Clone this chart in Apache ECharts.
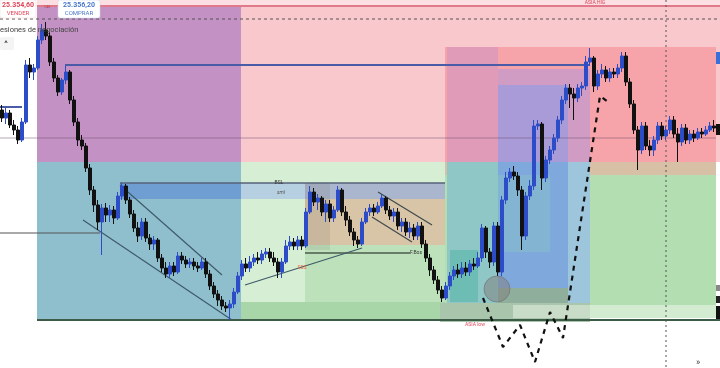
<!DOCTYPE html>
<html><head><meta charset="utf-8">
<script src="https://cdn.jsdelivr.net/npm/echarts@6/dist/echarts.min.js"></script>
<style>html,body{margin:0;padding:0;background:#fff}#c{width:720px;height:368px}</style>
</head><body><div id="c"></div>
<script>
// Candles: [open, close, low, high]
const candles = [
[25290,25282,25278,25295],[25282,25287,25276,25292],[25287,25275,25272,25290],[25275,25270,25265,25280],
[25270,25260,25256,25274],[25260,25278,25258,25282],[25278,25335,25276,25340],[25335,25328,25322,25342],
[25328,25332,25320,25336],[25332,25360,25330,25364],[25360,25370,25356,25376],[25370,25364,25360,25378],
[25364,25338,25334,25368],[25338,25322,25318,25342],[25322,25308,25304,25325],[25308,25320,25305,25322],
[25320,25328,25316,25334],[25328,25300,25296,25330],[25300,25278,25274,25304],[25278,25260,25254,25282],
[25260,25254,25250,25265],[25254,25232,25228,25257],[25232,25210,25205,25236],[25210,25195,25188,25214],
[25195,25178,25170,25200],[25178,25192,25145,25196],[25192,25185,25178,25197],[25185,25190,25178,25195],
[25190,25182,25176,25194],[25182,25204,25180,25208],[25204,25214,25200,25217],[25214,25200,25196,25216],
[25200,25186,25182,25203],[25186,25172,25168,25190],[25172,25164,25158,25178],[25164,25178,25160,25182],
[25178,25162,25158,25182],[25162,25156,25150,25166],[25156,25160,25150,25164],[25160,25142,25138,25162],
[25142,25132,25128,25146],[25132,25126,25122,25138],[25126,25134,25122,25138],[25134,25128,25124,25138],
[25128,25144,25126,25148],[25144,25140,25136,25148],[25140,25136,25132,25144],[25136,25138,25132,25142],
[25138,25134,25130,25142],[25134,25132,25128,25138],[25132,25138,25130,25142],[25138,25126,25122,25142],
[25126,25114,25110,25130],[25114,25106,25102,25118],[25106,25100,25094,25110],[25100,25094,25090,25104],
[25094,25092,25088,25098],[25092,25096,25080,25100],[25096,25108,25092,25112],[25108,25124,25106,25128],
[25124,25136,25120,25140],[25136,25132,25128,25142],[25132,25138,25128,25144],[25138,25142,25134,25146],
[25142,25140,25136,25148],[25140,25146,25136,25150],[25146,25148,25142,25152],[25148,25142,25138,25152],
[25142,25138,25134,25148],[25138,25128,25122,25142],[25128,25138,25122,25142],[25138,25154,25136,25160],
[25154,25158,25150,25164],[25158,25154,25150,25162],[25154,25160,25150,25164],[25160,25154,25150,25164],
[25154,25188,25152,25192],[25188,25208,25186,25214],[25208,25198,25194,25212],[25198,25202,25190,25206],
[25202,25188,25184,25204],[25188,25196,25178,25200],[25196,25182,25178,25200],[25182,25190,25178,25194],
[25190,25210,25188,25214],[25210,25188,25184,25212],[25188,25180,25174,25194],[25180,25168,25164,25184],
[25168,25160,25154,25172],[25160,25156,25152,25164],[25156,25178,25154,25182],[25178,25188,25176,25192],
[25188,25192,25184,25196],[25192,25188,25184,25196],[25188,25194,25186,25198],[25194,25202,25192,25206],
[25202,25190,25186,25204],[25190,25184,25180,25194],[25184,25188,25178,25192],[25188,25174,25170,25192],
[25174,25178,25168,25182],[25178,25168,25164,25182],[25168,25172,25162,25178],[25172,25164,25160,25176],
[25164,25174,25160,25178],[25174,25156,25152,25178],[25156,25142,25138,25160],[25142,25130,25124,25146],
[25130,25120,25116,25134],[25120,25110,25106,25124],[25110,25102,25098,25114],[25102,25114,25100,25118],
[25114,25124,25110,25128],[25124,25130,25120,25134],[25130,25126,25122,25136],[25126,25132,25122,25138],
[25132,25128,25124,25138],[25128,25136,25124,25140],[25136,25134,25130,25142],[25134,25142,25132,25148],
[25142,25172,25138,25176],[25172,25148,25142,25174],[25148,25138,25132,25152],[25138,25174,25134,25178],
[25174,25128,25124,25178],[25128,25200,25124,25204],[25200,25222,25196,25228],[25222,25228,25218,25232],
[25228,25224,25220,25234],[25224,25210,25204,25228],[25210,25164,25150,25214],[25164,25204,25160,25208],
[25204,25214,25200,25220],[25214,25274,25210,25280],[25274,25276,25270,25280],[25276,25222,25210,25278],
[25222,25240,25218,25244],[25240,25250,25236,25254],[25250,25262,25246,25266],[25262,25280,25258,25284],
[25280,25300,25276,25304],[25300,25312,25296,25316],[25312,25306,25292,25316],[25306,25302,25280,25312],
[25302,25312,25298,25316],[25312,25314,25304,25318],[25314,25338,25310,25344],[25338,25342,25334,25352],
[25342,25314,25308,25344],[25314,25326,25310,25330],[25326,25330,25322,25336],[25330,25322,25318,25334],
[25322,25328,25318,25332],[25328,25326,25322,25332],[25326,25332,25322,25336],[25332,25344,25328,25348],
[25344,25318,25314,25348],[25318,25296,25292,25322],[25296,25270,25266,25300],[25270,25250,25230,25274],
[25250,25274,25246,25278],[25274,25254,25250,25278],[25254,25250,25244,25260],[25250,25260,25244,25264],
[25260,25274,25256,25278],[25274,25264,25260,25278],[25264,25270,25260,25274],[25270,25280,25266,25284],
[25280,25266,25262,25284],[25266,25258,25238,25272],[25258,25272,25254,25276],[25272,25260,25256,25276],
[25260,25266,25256,25270],[25266,25262,25258,25270],[25262,25268,25260,25272],[25268,25266,25262,25272],
[25266,25270,25264,25274],[25270,25274,25268,25278],[25274,25272,25268,25280]
];
const slotCount = 180;
const categories = Array.from({length: slotCount}, (_, i) => String(i));

// Zones: [x1, priceTop, x2, priceBottom] (x in bar slots)
const zones = [
[9.25,25400,180,25393],[9.25,25393,180,25238],[9.25,25394,60.25,25238],[9.25,25238,60.25,25080],
[30,25217,60.25,25201],[60.25,25238,111.25,25080],[76.25,25155,111.25,25098],[60.25,25098,111.25,25080],
[60.25,25217,76.25,25201],[76.25,25217,111.25,25201],[76.25,25201,111.25,25155],[76.25,25217,82.5,25150],
[111.25,25353,179,25238],[111.25,25238,179,25225],[111.25,25225,179,25095],[110,25095,179,25082],
[111.75,25353,124.5,25238],[124.5,25331,147.5,25238],[124.5,25315,142,25238],[124.5,25238,142,25110],
[142,25238,147.5,25097],[111.75,25238,124.5,25097],[112.5,25150,119.5,25098],[124.5,25225,137.5,25148],
[124.5,25112,142,25097],[110,25097,147.5,25078],[128.25,25095,147.5,25082],
[179,25348,180,25336],[179,25276,180,25265],[179,25115,180,25109],[179,25104,180,25097],[179,25094,180,25080]
];
const zoneColors = [
'#fbdfe2','#f9c8cc','#c391c3','#8fbfcd',
'#6f9fd2','#d6eed4','#bde2bb','#a8d6a8',
'#b6d0e2','#a9b6cd','#d8c5a8','rgba(110,100,90,0.14)',
'#f6a3aa','#d8c0a6','#b3deb2','#d3ecd1',
'#df9bb8','#d09cc4','#a99ad8','#7fa9dd',
'#9dc5dc','#8fc6c6','#6dbdb4','rgba(140,200,190,0.35)',
'#8fae9b','#a9c5ab','#c9dcc8',
'#3a6fd8','#111','#888','#222','#111'
];

// Level / trend lines
const levelLines = [
[[9.25,25080],[180,25080]],
[[0,25167],[25,25167]],
[[0,25262],[179,25262]],
[[16.25,25335],[147.5,25335]],
[[0,25293],[5.5,25293]],
[[30,25217],[111.25,25217]],
[[76.25,25147],[102.5,25147]],
[[9.25,25394],[180,25394]],
[[0,25381],[180,25381]],
[[166.5,25400],[166.5,25032]],
[[30,25215],[55.5,25125]],
[[20.75,25180],[58,25080]],
[[61.25,25115],[90.5,25152]],
[[94.5,25208],[108,25175]],
[[93,25183],[103,25158]],
[[120.75,25102],[125.75,25053],[130,25075],[133.75,25038],[137.5,25088],[140.75,25062],[150,25304],[152,25298]]
];
const levelStyles = [
{color:'#3d5c48',width:2,type:'solid'},
{color:'#555',width:1.2,type:'solid'},
{color:'rgba(110,80,110,0.5)',width:1,type:'solid'},
{color:'#4a5ca8',width:2,type:'solid'},
{color:'#4a5ca8',width:2,type:'solid'},
{color:'#56627a',width:1.5,type:'solid'},
{color:'#4c5b4c',width:1.5,type:'solid'},
{color:'#e07a8a',width:2,type:'solid'},
{color:'#555',width:1,type:[3,3]},
{color:'#555',width:1,type:[2,3]},
{color:'#3f5a6a',width:1.2,type:'solid'},
{color:'#3f5a6a',width:1.2,type:'solid'},
{color:'#3f5a6a',width:1.2,type:'solid'},
{color:'#3f4a4a',width:1.2,type:'solid'},
{color:'#3f4a4a',width:1.2,type:'solid'},
{color:'#111',width:2.2,type:[5,5]}
];

const labelTexts = ['ASIA HIG','BSL','sml','F.Bos','SSS','ASIA low'];
const labelPos = [[148.75,25397],[69.75,25217],[70.25,25207],[104,25147],[75.5,25132],[118.75,25075]];
const labelColors = ['#e0475a','#333','#555','#333','#e8663c','#e0475a'];
const circleCenter = [124.25,25111];

const chart = echarts.init(document.getElementById('c'), null, {renderer:'canvas'});
const series = [];
series.push({
  type:'custom', xAxisIndex:1, yAxisIndex:0, z:1, silent:true, animation:false,
  encode:{x:[0,2],y:[1,3]}, data: zones, clip:false,
  renderItem:(p, api)=>{
    const a = api.coord([api.value(0), api.value(1)]);
    const b = api.coord([api.value(2), api.value(3)]);
    return {type:'rect', shape:{x:Math.min(a[0],b[0]), y:Math.min(a[1],b[1]), width:Math.abs(b[0]-a[0]), height:Math.abs(b[1]-a[1])},
      style:{fill: zoneColors[p.dataIndex]}};
  }
});
levelLines.forEach((ln, k)=>{
  series.push({type:'line', xAxisIndex:1, yAxisIndex:0, data: ln, symbol:'none', silent:true, animation:false,
    z: k===15 ? 6 : 2, lineStyle: levelStyles[k]});
});
series.push({
  type:'candlestick', xAxisIndex:0, yAxisIndex:0, data:candles, z:3, barWidth:3, silent:true, animation:false,
  itemStyle:{color:'#2c4cc8', color0:'#111111', borderColor:'#2c4cc8', borderColor0:'#111111', borderWidth:1}
});
series.push({
  type:'custom', xAxisIndex:1, yAxisIndex:0, z:5, silent:true, animation:false,
  data:[circleCenter],
  renderItem:(p, api)=>{
    const c = api.coord([api.value(0), api.value(1)]);
    return {type:'circle', shape:{cx:c[0], cy:c[1], r:13}, style:{fill:'rgba(130,130,130,0.55)', stroke:'rgba(110,110,110,0.6)', lineWidth:1}};
  }
});
series.push({
  type:'custom', xAxisIndex:1, yAxisIndex:0, z:7, silent:true, animation:false,
  data: labelPos,
  renderItem:(p, api)=>{
    const c = api.coord([api.value(0), api.value(1)]);
    const i = p.dataIndex;
    return {type:'text', x:c[0], y:c[1], style:{text:labelTexts[i], fill:labelColors[i], fontSize:5,
      fontFamily:'Roboto', fontStyle: i===2?'italic':'normal', align:'center', verticalAlign:'middle'}};
  }
});

chart.setOption({
  backgroundColor:'#ffffff',
  animation:false,
  grid:{left:0,right:0,top:0,bottom:0},
  xAxis:[
    {type:'category', data:categories, show:false, boundaryGap:true, position:'bottom'},
    {type:'value', min:0, max:slotCount, show:false, position:'top'}
  ],
  yAxis:[{type:'value', min:25032, max:25400, show:false, scale:true}],
  series: series,
  graphic:[
    {type:'rect', x:0, y:0, shape:{width:36,height:18,r:2}, style:{fill:'#ffffff', stroke:'#f0d0d4', lineWidth:0.5}, z:100},
    {type:'text', x:18, y:5, style:{text:'25.354,60', fill:'#e0475a', font:'bold 7px Roboto', align:'center', verticalAlign:'middle'}, z:101},
    {type:'text', x:18, y:13, style:{text:'VENDER', fill:'#e0475a', font:'6px Roboto', align:'center', verticalAlign:'middle'}, z:101},
    {type:'text', x:47, y:7, style:{text:'145', fill:'#b04050', font:'4px Roboto', align:'center', verticalAlign:'middle'}, z:101},
    {type:'rect', x:58, y:0, shape:{width:42,height:18,r:2}, style:{fill:'#ffffff', stroke:'#c8d6ee', lineWidth:0.5}, z:100},
    {type:'text', x:79, y:5, style:{text:'25.356,20', fill:'#4a78c8', font:'bold 7px Roboto', align:'center', verticalAlign:'middle'}, z:101},
    {type:'text', x:79, y:13, style:{text:'COMPRAR', fill:'#4a78c8', font:'6px Roboto', align:'center', verticalAlign:'middle'}, z:101},
    {type:'text', x:0, y:30, style:{text:'esiones de negociación', fill:'#444', font:'7.5px Roboto', verticalAlign:'middle'}, z:101},
    {type:'rect', x:0, y:37, shape:{width:14,height:13,r:2}, style:{fill:'#f4f4f4'}, z:100},
    {type:'text', x:6, y:44, style:{text:'^', fill:'#333', font:'bold 8px Roboto', align:'center', verticalAlign:'middle'}, z:101},
    {type:'text', x:698, y:363, style:{text:'»', fill:'#444', font:'9px Roboto', align:'center', verticalAlign:'middle'}, z:101}
  ]
});
</script></body></html>
